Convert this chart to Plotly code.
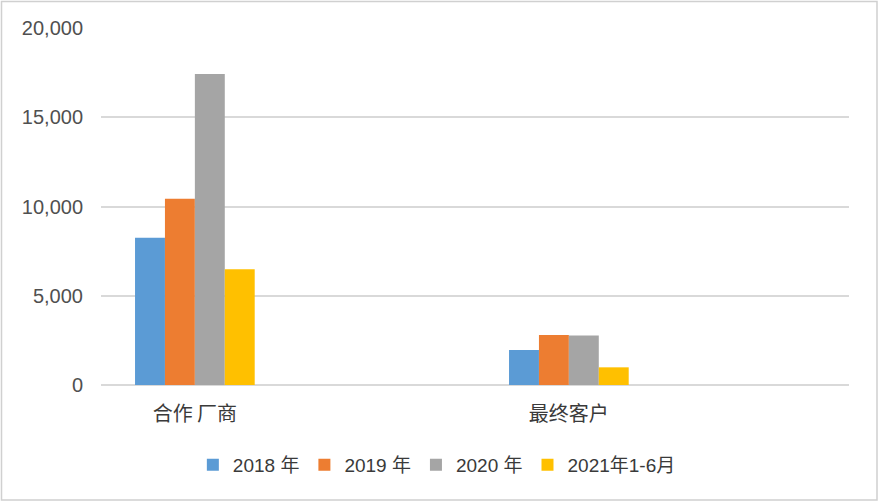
import plotly.graph_objects as go

# categories and series
categories = ['合作 厂商', '最终客户']
series_names = ['2018 年', '2019 年', '2020 年', '2021年1-6月']
v2018 = [8250, 1960]
v2019 = [10440, 2800]
v2020 = [17420, 2780]
v2021h1 = [6480, 990]

colors = ['#5B9BD5', '#ED7D31', '#A5A5A5', '#FFC000']

fig = go.Figure()
for name, vals, c in zip(series_names, [v2018, v2019, v2020, v2021h1], colors):
    fig.add_trace(go.Bar(x=categories, y=vals, name=name, marker=dict(color=c, line=dict(width=0))))

font_family = 'Liberation Sans, Arial, Noto Sans CJK SC, sans-serif'

fig.update_layout(
    width=879, height=502,
    barmode='group', bargap=0.68, bargroupgap=0,
    plot_bgcolor='white', paper_bgcolor='white',
    margin=dict(l=101, r=30, t=28, b=117),
    font=dict(family=font_family, size=19, color='#3a3a3a'),
    legend=dict(orientation='h', x=0.449, xanchor='center', y=-0.224, yanchor='middle',
                font=dict(size=19, color='#3a3a3a'), itemwidth=30, traceorder='normal'),
    showlegend=True,
)
fig.update_yaxes(range=[0, 20000], dtick=5000, tickformat=',', showgrid=True,
                 gridcolor='#d9d9d9', gridwidth=1.5, zeroline=True, zerolinecolor='#d9d9d9',
                 zerolinewidth=1.5, showline=False, ticklabelstandoff=17,
                 tickfont=dict(size=20, color='#505050'))
fig.update_xaxes(range=[-0.251, 1.749], showline=False, showgrid=False, ticklabelstandoff=15,
                 tickfont=dict(size=20, color='#3a3a3a', family='Noto Sans CJK SC, sans-serif'))

# light frame round the whole chart
fig.add_shape(type='rect', xref='paper', yref='paper',
              x0=-99.5 / 748, x1=776 / 748, y0=-115 / 357, y1=383.5 / 357,
              line=dict(color='#d0d0d0', width=1.5), fillcolor='rgba(0,0,0,0)')

fig.write_html("out.html", config={'displayModeBar': False},
               post_script="document.body.style.margin='0';")
